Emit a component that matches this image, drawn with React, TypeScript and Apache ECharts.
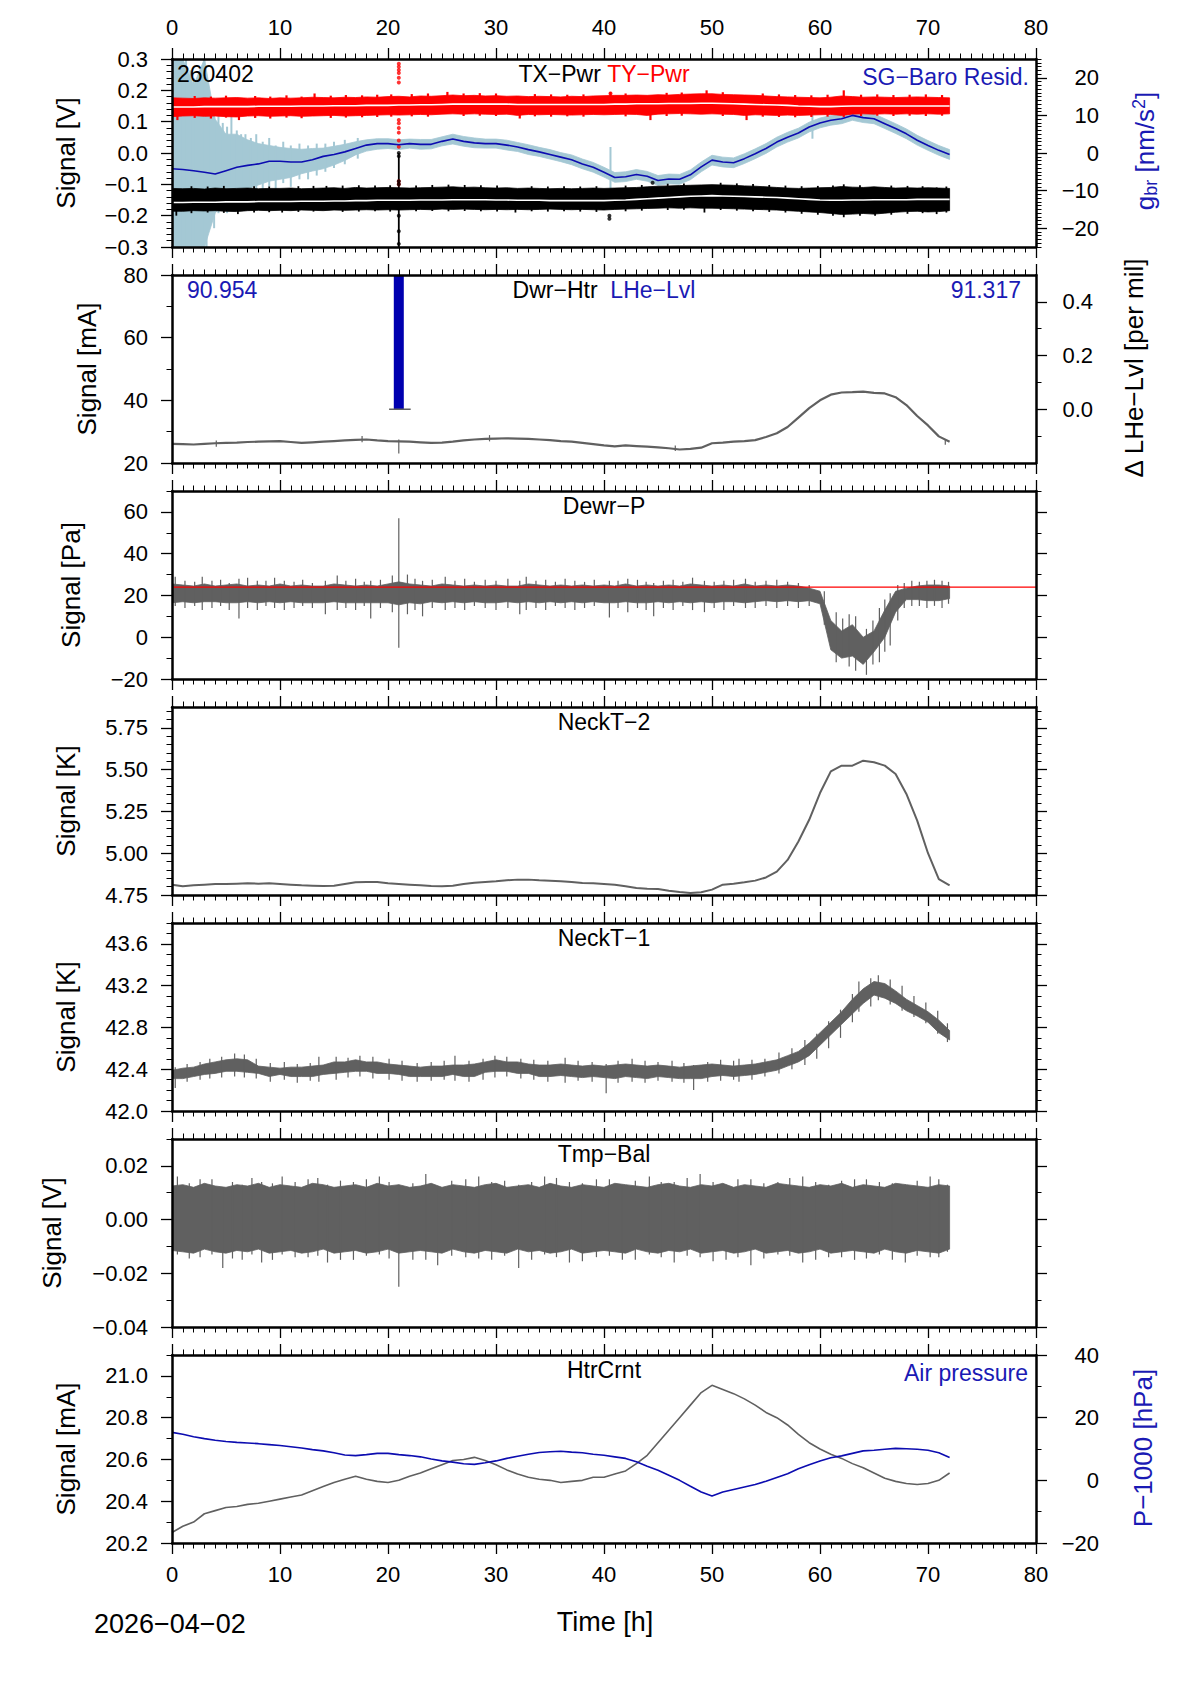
import React, { useEffect, useRef } from "react";
import * as echarts from "echarts";

const FONT = '"Liberation Sans", Arial, Helvetica, sans-serif';
const BLACK = "#000000";
const GRAY = "#606060";
const RED = "#ff0000";
const BLUE_LINE = "#0c0cb0";
const BLUE_TXT = "#1a1ab4";
const LIGHTBLUE = "#a4c8d4";

// ---------- time axis ----------
const X_MIN = 0;
const X_MAX = 80;
const HOURS = [0,1,2,3,4,5,6,7,8,9,10,11,12,13,14,15,16,17,18,19,20,21,22,23,24,25,26,27,28,29,30,31,32,33,34,35,36,37,38,39,40,41,42,43,44,45,46,47,48,49,50,51,52,53,54,55,56,57,58,59,60,61,62,63,64,65,66,67,68,69,70,71,72];

// ---------- panel 1 : TX-Pwr / TY-Pwr [V], SG-Baro residual [nm/s^2] ----------
const TY_HI = [0.176,0.175,0.174,0.176,0.175,0.176,0.177,0.175,0.176,0.174,
  0.176,0.175,0.176,0.178,0.177,0.176,0.178,0.177,0.179,0.178,
  0.180,0.181,0.179,0.182,0.181,0.183,0.185,0.183,0.184,0.182,
  0.183,0.181,0.182,0.180,0.181,0.180,0.179,0.181,0.180,0.182,
  0.183,0.184,0.184,0.185,0.184,0.186,0.185,0.187,0.188,0.189,
  0.189,0.187,0.186,0.185,0.184,0.182,0.180,0.179,0.178,0.177,
  0.176,0.178,0.182,0.180,0.178,0.179,0.178,0.177,0.178,0.179,
  0.178,0.177,0.176];
const TY_LO = [0.116,0.118,0.119,0.117,0.118,0.116,0.115,0.118,0.119,0.117,
  0.118,0.119,0.117,0.118,0.119,0.120,0.118,0.119,0.120,0.121,
  0.122,0.121,0.122,0.123,0.122,0.124,0.125,0.124,0.125,0.124,
  0.123,0.124,0.120,0.123,0.122,0.123,0.122,0.121,0.122,0.123,
  0.122,0.123,0.124,0.123,0.120,0.124,0.125,0.126,0.125,0.124,
  0.125,0.124,0.123,0.120,0.122,0.121,0.120,0.121,0.120,0.121,
  0.122,0.123,0.120,0.124,0.125,0.124,0.125,0.124,0.125,0.124,
  0.125,0.124,0.125];
const TY_MID = [0.147,0.147,0.147,0.148,0.148,0.148,0.148,0.148,0.149,0.149,
  0.149,0.149,0.150,0.150,0.150,0.151,0.151,0.151,0.152,0.152,
  0.152,0.153,0.153,0.154,0.154,0.155,0.156,0.156,0.156,0.156,
  0.156,0.156,0.155,0.155,0.155,0.155,0.155,0.155,0.155,0.155,
  0.155,0.156,0.156,0.157,0.157,0.157,0.158,0.158,0.158,0.159,
  0.159,0.158,0.157,0.156,0.155,0.154,0.153,0.152,0.150,0.149,
  0.148,0.148,0.149,0.150,0.150,0.150,0.150,0.150,0.150,0.150,
  0.150,0.150,0.150];
const TY_SPIKES = [[0.5,0.105,0.17],[2.1,0.112,0.182],[3.6,0.11,0.18],[5.0,0.113,0.183],[6.2,0.105,0.17],[7.7,0.112,0.182],
  [9.1,0.11,0.18],[10.6,0.113,0.184],[12.0,0.111,0.18],[13.2,0.12,0.19],[14.7,0.112,0.183],[16.1,0.113,0.185],
  [17.6,0.114,0.184],[19.0,0.115,0.186],[20.3,0.116,0.187],[22.2,0.117,0.188],[23.7,0.116,0.19],[25.5,0.13,0.195],
  [27.0,0.118,0.19],[28.5,0.119,0.191],[30.0,0.118,0.19],[32.2,0.11,0.17],[33.6,0.117,0.188],[35.1,0.116,0.187],
  [36.6,0.117,0.186],[38.1,0.116,0.187],[40.6,0.13,0.195],[42.0,0.117,0.19],[44.3,0.105,0.17],[45.8,0.118,0.192],
  [47.2,0.119,0.193],[49.5,0.13,0.2],[51.0,0.118,0.194],[53.2,0.105,0.17],[54.7,0.116,0.19],[56.2,0.115,0.187],
  [57.7,0.114,0.185],[59.2,0.115,0.184],[60.7,0.116,0.186],[62.2,0.115,0.2],[63.8,0.118,0.186],[65.3,0.119,0.187],
  [66.8,0.118,0.185],[68.3,0.119,0.186],[69.8,0.118,0.187],[71.3,0.119,0.185]];
const TY_DOTS = [[21,0.285],[21,0.275],[21,0.265],[21,0.255],[21,0.24],[21,0.225],[21,0.105],[21,0.095],
  [21,0.08],[21,0.065],[21,0.04],[21,0.02],[21,-0.09],[21,-0.1],[40.6,0.19]];

const TX_HI = [-0.113,-0.114,-0.113,-0.115,-0.112,-0.114,-0.113,-0.112,-0.114,-0.113,
  -0.113,-0.112,-0.114,-0.113,-0.112,-0.111,-0.113,-0.110,-0.112,-0.111,
  -0.110,-0.111,-0.112,-0.111,-0.110,-0.109,-0.108,-0.110,-0.109,-0.111,
  -0.112,-0.111,-0.113,-0.112,-0.113,-0.114,-0.113,-0.114,-0.113,-0.112,
  -0.113,-0.112,-0.111,-0.110,-0.108,-0.106,-0.105,-0.104,-0.103,-0.102,
  -0.101,-0.102,-0.103,-0.105,-0.106,-0.108,-0.110,-0.112,-0.113,-0.112,
  -0.111,-0.110,-0.107,-0.109,-0.110,-0.108,-0.110,-0.112,-0.111,-0.112,
  -0.111,-0.112,-0.113];
const TX_LO = [-0.186,-0.186,-0.184,-0.185,-0.184,-0.186,-0.187,-0.184,-0.183,-0.184,
  -0.183,-0.184,-0.182,-0.183,-0.184,-0.182,-0.183,-0.182,-0.181,-0.182,
  -0.181,-0.182,-0.181,-0.180,-0.181,-0.179,-0.180,-0.179,-0.180,-0.181,
  -0.180,-0.181,-0.180,-0.181,-0.180,-0.179,-0.180,-0.181,-0.180,-0.181,
  -0.182,-0.180,-0.179,-0.178,-0.177,-0.176,-0.175,-0.176,-0.175,-0.176,
  -0.176,-0.177,-0.178,-0.179,-0.180,-0.181,-0.182,-0.184,-0.186,-0.188,
  -0.190,-0.193,-0.196,-0.195,-0.193,-0.195,-0.192,-0.189,-0.187,-0.186,
  -0.188,-0.187,-0.184];
const TX_MID = [-0.158,-0.158,-0.157,-0.157,-0.157,-0.156,-0.156,-0.156,-0.155,-0.155,
  -0.155,-0.155,-0.154,-0.154,-0.154,-0.153,-0.153,-0.152,-0.152,-0.151,
  -0.151,-0.151,-0.151,-0.150,-0.150,-0.150,-0.149,-0.149,-0.149,-0.149,
  -0.150,-0.150,-0.151,-0.151,-0.151,-0.152,-0.152,-0.152,-0.152,-0.152,
  -0.152,-0.151,-0.150,-0.148,-0.146,-0.144,-0.142,-0.140,-0.138,-0.137,
  -0.136,-0.137,-0.138,-0.139,-0.140,-0.141,-0.142,-0.144,-0.146,-0.148,
  -0.150,-0.151,-0.151,-0.150,-0.150,-0.149,-0.149,-0.149,-0.149,-0.148,
  -0.148,-0.148,-0.148];
const TX_SPIKES = [[0.4,-0.2,-0.12],[1.8,-0.192,-0.106],[3.3,-0.19,-0.107],[4.8,-0.191,-0.105],[6.1,-0.195,-0.12],
  [7.6,-0.19,-0.106],[9.0,-0.189,-0.107],[10.2,-0.19,-0.115],[11.7,-0.188,-0.106],[13.1,-0.187,-0.105],
  [14.3,-0.18,-0.105],[15.8,-0.188,-0.104],[17.3,-0.187,-0.103],[18.8,-0.186,-0.104],[20.2,-0.187,-0.103],
  [22.6,-0.186,-0.104],[24.1,-0.185,-0.102],[25.6,-0.186,-0.101],[27.1,-0.185,-0.102],[28.6,-0.186,-0.103],
  [30.1,-0.187,-0.104],[31.8,-0.19,-0.115],[33.3,-0.186,-0.106],[34.8,-0.187,-0.107],[36.3,-0.186,-0.106],
  [37.8,-0.187,-0.107],[39.3,-0.188,-0.106],[42.0,-0.186,-0.104],[43.5,-0.184,-0.102],[45.9,-0.182,-0.098],
  [47.4,-0.181,-0.097],[49.3,-0.19,-0.12],[50.8,-0.182,-0.095],[52.3,-0.184,-0.097],[53.8,-0.186,-0.099],
  [55.3,-0.188,-0.102],[56.8,-0.19,-0.104],[58.3,-0.194,-0.106],[59.8,-0.197,-0.105],[61.2,-0.2,-0.104],
  [62.2,-0.205,-0.1],[63.7,-0.2,-0.103],[65.1,-0.2,-0.11],[66.6,-0.197,-0.104],[68.1,-0.194,-0.105],
  [69.5,-0.192,-0.106],[70.8,-0.195,-0.11],[71.7,-0.19,-0.107],[21,-0.3,0.0]];
const TX_DOTS = [[21,0.0],[21,-0.01],[21,-0.09],[21,-0.1],[21,-0.2],[21,-0.25],[21,-0.29],[40.5,-0.2],[40.5,-0.21],[44.5,-0.095]];

const SG_SMOOTH = [-4.2,-4.4,-4.7,-5.1,-5.6,-4.7,-3.8,-3.3,-2.9,-2.2,
  -2.2,-2.4,-2.4,-1.8,-0.9,-0.4,0.3,1.2,2.1,2.5,
  2.5,2.2,2.5,2.3,2.3,3.1,3.7,3.1,2.7,2.5,
  2.5,2.1,1.6,0.9,0.3,-0.4,-1.1,-1.8,-2.9,-3.8,
  -5.1,-6.5,-6.3,-5.7,-6.2,-7.3,-6.9,-7.0,-5.8,-3.7,
  -1.9,-2.4,-2.6,-1.5,-0.2,1.2,2.9,4.2,5.3,6.9,
  8.0,8.7,9.1,10.0,9.4,9.1,7.8,6.5,5.1,3.4,
  2.0,0.7,-0.4];
const SG_RAW_HI = [25,25,18,25,9,5,5,3.5,2.5,2,
  1.5,1.2,1,1.2,1.3,1.8,2.3,3,3.5,3.8,
  3.8,3.5,3.7,3.6,3.6,4.3,5.0,4.4,4.0,3.7,
  3.7,3.4,2.8,2.2,1.5,0.9,0.1,-0.5,-1.6,-2.5,
  -3.8,-5.2,-5.0,-4.4,-4.9,-6.0,-5.6,-5.7,-4.5,-2.4,
  -0.6,-1.1,-1.3,-0.2,1.1,2.5,4.2,5.5,6.6,8.2,
  9.3,10.0,10.4,11.3,10.7,10.4,9.1,7.8,6.4,4.7,
  3.3,2.0,0.9];
const SG_RAW_LO = [-25,-25,-25,-25,-16,-12,-12,-9.5,-8.5,-7.5,
  -7,-6.5,-5.5,-4.8,-4.2,-3.2,-2,-0.5,0.5,1,
  1.2,0.9,1.3,1.0,1.1,1.9,2.4,1.8,1.4,1.3,
  1.3,0.8,0.4,-0.4,-0.9,-1.6,-2.3,-3.1,-4.2,-5.1,
  -6.4,-7.8,-7.6,-7.0,-7.5,-8.6,-8.2,-8.3,-7.1,-5.0,
  -3.2,-3.7,-3.9,-2.8,-1.5,-0.1,1.6,2.9,4.0,5.6,
  6.7,7.4,7.8,8.7,8.1,7.8,6.5,5.2,3.8,2.1,
  0.7,-0.6,-1.7];
const SG_RAW_SPIKES = [[0.1,-25,25],[0.3,-25,25],[0.7,-25,25],[1.0,-25,25],[1.3,-25,25],[1.7,-25,22],[2.0,-25,20],
  [2.2,-25,12],[2.6,-22,14],[3.0,-25,25],[3.2,-25,20],[3.6,-12,8],[3.9,-20,12],[4.3,-16,12],[4.7,-14,8],
  [5.1,-16,7],[5.5,-10,10],[6.0,-13,6],[6.4,-14,5],[6.8,-9,5],[7.3,-12,4],[7.8,-10,5],[8.4,-11,3],[9.0,-9,4],
  [9.6,-10,2],[10.3,-8,3],[11.0,-9,2],[11.8,-7,2.5],[12.6,-7,2],[13.4,-6,2.5],[14.2,-5,2.5],[15.0,-4,3],
  [16.0,-3,3.5],[17.2,-1.5,4],[40.6,-9.6,1.6],[59.3,3.8,10.2]];

// ---------- panel 2 : Dwr-Htr [mA], LHe-Lvl [per mil] ----------
const DWR_HTR = [26.1,26.0,25.9,26.1,26.3,26.4,26.5,26.7,26.8,26.9,
  27.0,26.7,26.4,26.6,26.8,27.0,27.2,27.4,27.5,27.2,
  27.0,26.9,26.8,26.6,26.4,26.5,26.8,27.2,27.5,27.7,
  27.8,27.9,27.8,27.7,27.5,27.3,27.0,26.8,26.4,26.0,
  25.6,25.3,25.6,25.4,25.2,25.0,24.7,24.3,24.5,24.9,
  26.3,26.5,26.8,27.0,27.3,28.3,29.5,31.5,34.5,37.5,
  40.0,41.8,42.5,42.6,42.8,42.4,42.2,41.0,38.5,35.0,
  32.0,28.5,26.8];
const DWR_SPIKES = [[21,23,27.5],[4.1,25.2,27.2],[17.6,26.6,28.6],[29.4,26.9,28.9],[46.6,23.8,25.6],[71.6,25.8,27.4]];
const LHE_BAR = [[21, 0.6]];
const LHE_CAP = [[20.1, 0], [22.1, 0]];

// ---------- panel 3 : Dewr-P [Pa] ----------
const DP_HI = [25.5,25,24.5,25.5,24.5,25,25.5,24.5,25,24.5,
  25.5,24.5,25,24.5,24.5,25.5,25,24.5,25,24.5,
  25.5,26.5,25.5,25,24.5,25.5,25,24.5,25,24.5,
  25,24.5,24.5,25.5,25,24.5,25,24.5,25,24.5,
  25,24.5,25.5,24.5,25,24.5,25,24.5,25.5,25,
  24.5,25,24.5,25.5,24.5,25,24.5,25,24.5,23.5,
  22,8,3,6,0,3,13,22,23.5,24.5,
  25,25,24.5];
const DP_LO = [16.5,17,16.5,17,17,16.5,16.5,17,16.5,17,
  16.5,17,16.5,16.5,16.5,17,16.5,16.5,16.5,16.5,
  16.5,15.5,16.5,16,17,16.5,17,16.5,17,16.5,
  16.5,17,16.5,17,16.5,17,16.5,17,16.5,17,
  16.5,16.5,17,16.5,16.5,17,16.5,17,16.5,17,
  16.5,17,17,16.5,17,17.5,17,17.5,17,17.5,
  16,-6,-10,-9,-13,-7,0,12,18,18,
  17.5,17.5,18.5];
const DP_SPIKES = [[0.3,15,29],[1.2,14,27],[2.1,15,26.5],[2.8,13,29],[3.7,14,27],[4.5,15,27.5],[5.3,13,26],
  [6.2,9,28],[7.0,14,28.5],[7.9,13,27],[8.7,15,27],[9.5,14,28.5],[10.4,13,27],[11.3,14,26.5],[12.1,15,27.5],
  [13.0,14,26],[14.2,11,27],[15.3,13,29.5],[16.1,14,27],[17.0,13,28],[17.8,15,26.5],[18.4,9,27],[19.3,14,27.5],
  [20.4,12,29.5],[21,-5,57],[21.8,11,30],[22.5,13,28],[23.2,10,27],[24.1,14,27.5],[25.3,13,29],[26.2,14,27],
  [27.1,13,28],[28.0,15,26.5],[29.0,14,27.5],[30.0,13,27],[31.1,14,28],[32.2,11,27],[32.8,13,29],[33.7,14,27],
  [34.6,13,27.5],[35.5,15,26.5],[36.4,14,28],[37.3,13,27],[38.2,14,26.5],[39.1,15,27.5],[40.5,9.5,27],
  [41.3,14,27],[42.2,12,28],[43.1,14,27.5],[43.9,13,26.5],[44.6,10,26],[45.5,14,27],[46.4,13,27.5],
  [47.3,15,26.5],[48.2,13,28.5],[49.3,12,27],[50.2,14,26.5],[51.1,13,27],[52.0,15,27.5],[53.1,14,28],
  [54.0,14,26.5],[55.0,15,27],[56.0,14,27.5],[57.0,15,26.5],[58.0,14,26],[59.0,15,25],[60.4,6,22],
  [61.5,-12,12],[62.1,-10,9],[62.7,-14,11],[63.3,-16,10],[64.3,-18,4],[64.9,-13,8],[65.5,-12,14],[66.0,-7,18],
  [66.5,-4,21],[67.2,8,25],[67.8,14,26],[68.5,15,27],[69.2,15,26.5],[69.9,14,27],[70.6,15,27.5],[71.3,14,27],
  [71.9,16,26.5]];
const DP_REF = [[0, 24], [80, 24]];

// ---------- panel 4 : NeckT-2 [K] ----------
const NECK_T2 = [4.812,4.802,4.808,4.812,4.816,4.816,4.818,4.820,4.818,4.820,
  4.816,4.812,4.808,4.806,4.804,4.806,4.816,4.826,4.828,4.828,
  4.820,4.816,4.812,4.808,4.804,4.802,4.806,4.816,4.824,4.828,
  4.832,4.838,4.842,4.842,4.838,4.836,4.832,4.828,4.822,4.820,
  4.816,4.812,4.802,4.792,4.788,4.786,4.776,4.768,4.762,4.766,
  4.782,4.812,4.818,4.826,4.836,4.855,4.890,4.960,5.070,5.200,
  5.360,5.490,5.524,5.524,5.554,5.544,5.524,5.474,5.355,5.195,
  5.000,4.845,4.808];

// ---------- panel 5 : NeckT-1 [K] ----------
const N1_HI = [42.39,42.41,42.42,42.45,42.47,42.49,42.50,42.49,42.43,42.42,
  42.41,42.42,42.42,42.43,42.44,42.47,42.47,42.49,42.47,42.47,
  42.45,42.44,42.43,42.42,42.43,42.43,42.44,42.44,42.45,42.47,
  42.49,42.47,42.47,42.45,42.44,42.44,42.45,42.44,42.43,42.44,
  42.43,42.44,42.45,42.44,42.43,42.44,42.43,42.42,42.43,42.44,
  42.45,42.44,42.43,42.44,42.45,42.47,42.49,42.53,42.57,42.65,
  42.75,42.85,42.95,43.07,43.17,43.24,43.22,43.15,43.07,43.01,
  42.95,42.87,42.77];
const N1_LO = [42.31,42.31,42.33,42.35,42.36,42.38,42.38,42.37,42.36,42.33,
  42.35,42.33,42.33,42.33,42.35,42.36,42.37,42.38,42.38,42.36,
  42.36,42.35,42.33,42.33,42.33,42.33,42.35,42.33,42.33,42.37,
  42.38,42.38,42.36,42.36,42.33,42.33,42.34,42.33,42.32,42.33,
  42.32,42.31,42.33,42.32,42.31,42.33,42.32,42.31,42.31,42.31,
  42.33,42.34,42.33,42.34,42.35,42.37,42.39,42.43,42.47,42.53,
  42.63,42.73,42.83,42.93,43.03,43.11,43.08,43.03,42.96,42.91,
  42.85,42.75,42.68];
const N1_SPIKES = [[0.3,42.22,42.42],[1.4,42.28,42.45],[2.6,42.3,42.47],[3.5,42.31,42.5],[4.6,42.32,42.52],
  [5.8,42.33,42.55],[6.7,42.32,42.54],[7.8,42.31,42.5],[9.1,42.28,42.46],[10.4,42.3,42.47],[11.6,42.27,42.45],
  [12.8,42.29,42.46],[13.6,42.28,42.52],[15.2,42.3,42.52],[16.3,42.32,42.51],[17.4,42.33,42.53],[18.6,42.31,42.52],
  [20.1,42.3,42.5],[21.3,42.29,42.48],[22.7,42.28,42.46],[24.0,42.29,42.47],[25.2,42.3,42.48],[26.2,42.29,42.53],
  [27.5,42.28,42.48],[28.8,42.3,42.5],[29.9,42.32,42.53],[31.0,42.33,42.52],[32.3,42.31,42.5],[33.5,42.3,42.49],
  [34.8,42.28,42.48],[36.4,42.27,42.51],[37.6,42.29,42.48],[38.9,42.28,42.47],[40.2,42.17,42.45],[41.3,42.27,42.48],
  [42.6,42.28,42.5],[43.8,42.27,42.48],[45.0,42.29,42.47],[46.3,42.28,42.48],[47.4,42.27,42.46],[48.3,42.2,42.44],
  [49.6,42.28,42.47],[50.8,42.29,42.49],[52.0,42.3,42.48],[52.5,42.28,42.5],[53.7,42.3,42.49],[54.9,42.33,42.5],
  [56.2,42.36,42.56],[57.4,42.4,42.6],[58.6,42.44,42.68],[59.7,42.5,42.74],[60.8,42.6,42.86],[61.9,42.7,42.97],
  [63.0,42.85,43.12],[63.6,42.95,43.24],[64.7,43.0,43.27],[65.4,43.06,43.3],[66.5,43.02,43.26],[67.6,42.96,43.2],
  [68.7,42.9,43.1],[69.8,42.84,43.04],[70.9,42.74,42.96],[71.8,42.66,42.84]];

// ---------- panel 6 : Tmp-Bal [V] ----------
const TB_HI = [0.0125,0.013,0.012,0.0135,0.0125,0.012,0.013,0.0125,0.0135,0.012,
  0.013,0.0125,0.012,0.0135,0.013,0.012,0.0125,0.013,0.012,0.0135,
  0.0125,0.013,0.012,0.0125,0.0135,0.012,0.013,0.0125,0.012,0.013,
  0.0135,0.012,0.0125,0.013,0.012,0.0135,0.0125,0.012,0.013,0.0125,
  0.012,0.0135,0.013,0.0125,0.012,0.013,0.0135,0.0125,0.012,0.013,
  0.0125,0.0135,0.012,0.013,0.0125,0.012,0.0135,0.013,0.0125,0.012,
  0.013,0.0125,0.0135,0.012,0.013,0.0125,0.012,0.0135,0.013,0.0125,
  0.012,0.013,0.0125];
const TB_LO = [-0.0115,-0.012,-0.0125,-0.011,-0.012,-0.0125,-0.0115,-0.012,-0.011,-0.0125,
  -0.012,-0.0115,-0.0125,-0.012,-0.011,-0.0125,-0.012,-0.0115,-0.0125,-0.012,
  -0.011,-0.0125,-0.012,-0.0115,-0.012,-0.0125,-0.011,-0.012,-0.0125,-0.0115,
  -0.012,-0.0125,-0.011,-0.012,-0.0115,-0.0125,-0.012,-0.011,-0.0125,-0.012,
  -0.0115,-0.012,-0.0125,-0.011,-0.012,-0.0125,-0.0115,-0.012,-0.011,-0.0125,
  -0.012,-0.0115,-0.0125,-0.012,-0.011,-0.0125,-0.012,-0.0115,-0.0125,-0.012,
  -0.011,-0.0125,-0.012,-0.0115,-0.012,-0.0125,-0.011,-0.012,-0.0125,-0.0115,
  -0.012,-0.0125,-0.011];
const TB_SPIKES = [[0.5,-0.013,0.016],[1.6,-0.0145,0.0135],[2.6,-0.014,0.015],[3.7,-0.013,0.015],[4.7,-0.018,0.012],
  [5.6,-0.0145,0.014],[6.5,-0.015,0.013],[7.4,-0.013,0.0155],[8.3,-0.016,0.014],[9.3,-0.015,0.0135],
  [10.2,-0.013,0.016],[11.4,-0.014,0.014],[12.6,-0.014,0.015],[13.5,-0.0135,0.0155],[14.4,-0.016,0.013],
  [15.6,-0.015,0.0145],[16.8,-0.015,0.014],[18.0,-0.0135,0.015],[19.2,-0.013,0.016],[20.1,-0.0145,0.014],
  [21,-0.025,0.013],[22.3,-0.015,0.0135],[23.5,-0.015,0.017],[24.6,-0.017,0.012],[25.9,-0.0135,0.0145],
  [27.2,-0.014,0.015],[28.4,-0.0145,0.016],[29.6,-0.015,0.014],[30.8,-0.0135,0.0145],[32.1,-0.018,0.013],
  [33.3,-0.015,0.014],[34.5,-0.013,0.016],[35.6,-0.014,0.0155],[36.8,-0.016,0.014],[38.0,-0.0155,0.0135],
  [39.3,-0.014,0.015],[40.5,-0.0135,0.015],[41.7,-0.015,0.013],[42.9,-0.015,0.0145],[44.2,-0.013,0.016],
  [45.3,-0.014,0.014],[46.5,-0.016,0.014],[47.7,-0.0135,0.0155],[48.9,-0.014,0.017],[50.1,-0.0155,0.014],
  [51.3,-0.015,0.013],[52.4,-0.014,0.015],[53.6,-0.017,0.015],[54.8,-0.0145,0.0135],[56.1,-0.013,0.014],
  [57.2,-0.0135,0.0155],[58.4,-0.016,0.016],[59.6,-0.015,0.014],[60.8,-0.014,0.013],[62.0,-0.014,0.0145],
  [63.2,-0.015,0.015],[64.3,-0.0145,0.015],[65.5,-0.013,0.014],[66.7,-0.015,0.0135],[67.9,-0.016,0.013],
  [69.0,-0.0135,0.0145],[70.2,-0.014,0.016],[71.0,-0.014,0.015],[71.8,-0.012,0.013]];

// ---------- panel 7 : HtrCrnt [mA], Air pressure [hPa] ----------
const HTR_CRNT = [20.25,20.28,20.30,20.34,20.355,20.37,20.375,20.385,20.39,20.40,
  20.41,20.42,20.43,20.45,20.47,20.49,20.505,20.52,20.505,20.495,
  20.49,20.50,20.52,20.535,20.555,20.575,20.595,20.60,20.61,20.595,
  20.575,20.55,20.53,20.515,20.505,20.50,20.49,20.495,20.50,20.515,
  20.515,20.53,20.545,20.58,20.62,20.68,20.74,20.80,20.86,20.92,
  20.955,20.935,20.915,20.89,20.86,20.825,20.80,20.765,20.72,20.68,
  20.65,20.625,20.605,20.58,20.56,20.535,20.51,20.495,20.485,20.48,
  20.485,20.50,20.535];
const AIR_P = [15.3,14.7,13.9,13.3,12.8,12.4,12.1,11.9,11.7,11.4,
  11.1,10.7,10.3,9.8,9.4,8.8,8.1,7.9,8.2,8.6,
  8.6,8.2,7.9,7.5,6.8,6.2,5.8,5.3,5.1,5.6,
  6.2,7.0,7.7,8.3,8.9,9.1,9.3,9.0,8.8,8.3,
  8.0,7.5,7.0,5.9,4.5,3.2,1.6,0.0,-1.9,-3.7,
  -5.0,-3.7,-2.9,-2.1,-1.3,-0.3,0.9,2.1,3.7,5.0,
  6.2,7.2,7.8,8.6,9.4,9.6,9.9,10.2,10.1,9.9,
  9.6,8.8,7.3];

// ---------- axis ticks ----------
const P1_L_MAJ = [-0.3,-0.2,-0.1,0,0.1,0.2,0.3];
const P1_L_MIN = [-0.28,-0.26,-0.24,-0.22,-0.18,-0.16,-0.14,-0.12,-0.08,-0.06,-0.04,-0.02,0.02,0.04,0.06,0.08,0.12,0.14,0.16,0.18,0.22,0.24,0.26,0.28];
const P1_R_MAJ = [-20,-10,0,10,20];
const P1_R_MIN = [-25,-24,-23,-22,-21,-19,-18,-17,-16,-15,-14,-13,-12,-11,-9,-8,-7,-6,-5,-4,-3,-2,-1,1,2,3,4,5,6,7,8,9,11,12,13,14,15,16,17,18,19,21,22,23,24,25];
const P2_L_MAJ = [20,40,60,80];
const P2_L_MIN = [30,50,70];
const P2_R_MAJ = [0,0.2,0.4];
const P2_R_MIN = [-0.1,0.1,0.3];
const P3_MAJ = [-20,0,20,40,60];
const P3_MIN = [-10,10,30,50,70];
const P4_MAJ = [4.75,5.0,5.25,5.5,5.75];
const P4_MIN = [4.8,4.85,4.9,4.95,5.05,5.1,5.15,5.2,5.3,5.35,5.4,5.45,5.55,5.6,5.65,5.7,5.8,5.85];
const P5_MAJ = [42.0,42.4,42.8,43.2,43.6];
const P5_MIN = [42.1,42.2,42.3,42.5,42.6,42.7,42.9,43.0,43.1,43.3,43.4,43.5,43.7,43.8];
const P6_MAJ = [-0.04,-0.02,0,0.02];
const P6_MIN = [-0.03,-0.01,0.01,0.03];
const P7_L_MAJ = [20.2,20.4,20.6,20.8,21.0];
const P7_L_MIN = [20.3,20.5,20.7,20.9,21.1];
const P7_R_MAJ = [-20,0,20,40];
const P7_R_MIN = [-10,10,30];

const PANELS = [
  { lmin: -0.3, lmax: 0.3, lmaj: P1_L_MAJ, lmi: P1_L_MIN, ldec: 1, rmin: -25, rmax: 25, rmaj: P1_R_MAJ, rmi: P1_R_MIN, rdec: 0, rlab: true, rmargin: 63 },
  { lmin: 20, lmax: 80, lmaj: P2_L_MAJ, lmi: P2_L_MIN, ldec: 0, rmin: -0.2, rmax: 0.5, rmaj: P2_R_MAJ, rmi: P2_R_MIN, rdec: 1, rlab: true, rmargin: 57 },
  { lmin: -20, lmax: 70, lmaj: P3_MAJ, lmi: P3_MIN, ldec: 0, rmin: -20, rmax: 70, rmaj: P3_MAJ, rmi: P3_MIN, rdec: 0, rlab: false, rmargin: 20 },
  { lmin: 4.75, lmax: 5.875, lmaj: P4_MAJ, lmi: P4_MIN, ldec: 2, rmin: 4.75, rmax: 5.875, rmaj: P4_MAJ, rmi: P4_MIN, rdec: 2, rlab: false, rmargin: 20 },
  { lmin: 42.0, lmax: 43.8, lmaj: P5_MAJ, lmi: P5_MIN, ldec: 1, rmin: 42.0, rmax: 43.8, rmaj: P5_MAJ, rmi: P5_MIN, rdec: 1, rlab: false, rmargin: 20 },
  { lmin: -0.04, lmax: 0.03, lmaj: P6_MAJ, lmi: P6_MIN, ldec: 2, rmin: -0.04, rmax: 0.03, rmaj: P6_MAJ, rmi: P6_MIN, rdec: 2, rlab: false, rmargin: 20 },
  { lmin: 20.2, lmax: 21.1, lmaj: P7_L_MAJ, lmi: P7_L_MIN, ldec: 1, rmin: -20, rmax: 40, rmaj: P7_R_MAJ, rmi: P7_R_MIN, rdec: 0, rlab: true, rmargin: 63 },
];

// ---------- layout ----------
const TOPS = [59, 275, 491, 707, 923, 1139, 1355];
const GRID_LEFT = 172;
const GRID_W = 864;
const GRID_H = 188;

function fmt(v: number, d: number) {
  return Number(v).toFixed(d).replace("-", "\u2212");
}

function yMajor(g: number, pos: string, min: number, max: number, vals: number[], dec: number, showLabel: boolean, margin: number) {
  return {
    type: "value", gridIndex: g, position: pos, min, max, z: 10,
    axisLine: { show: true, onZero: false, lineStyle: { color: BLACK, width: 2.5 } },
    axisTick: { show: true, inside: false, length: 11, customValues: vals, lineStyle: { color: BLACK, width: 1.3 } },
    axisLabel: {
      show: showLabel, customValues: vals, margin, fontSize: 22, color: BLACK, fontFamily: FONT,
      align: "right",
      formatter: (v: number) => fmt(v, dec),
    },
    splitLine: { show: false },
  };
}
function yMinor(g: number, pos: string, min: number, max: number, vals: number[]) {
  return {
    type: "value", gridIndex: g, position: pos, min, max, z: 10,
    axisLine: { show: false, onZero: false },
    axisTick: { show: true, inside: false, length: 5.5, customValues: vals, lineStyle: { color: BLACK, width: 1 } },
    axisLabel: { show: false },
    splitLine: { show: false },
  };
}

function band(xi: number, yi: number, lo: number[], hi: number[], color: string) {
  return {
    type: "custom", xAxisIndex: xi, yAxisIndex: yi, clip: true, silent: true,
    data: HOURS.map((t, i) => [t, lo[i], hi[i]]),
    encode: { x: 0, y: [1, 2] },
    renderItem: (params: any, api: any) => {
      if (params.dataIndex !== 0) return null;
      const top = HOURS.map((t, i) => api.coord([t, hi[i]]));
      const bot = HOURS.map((t, i) => api.coord([t, lo[i]])).reverse();
      return { type: "polygon", shape: { points: top.concat(bot) }, style: { fill: color, stroke: color, lineWidth: 0.8 } };
    },
  };
}
function spikes(xi: number, yi: number, items: number[][], color: string, width: number) {
  return {
    type: "custom", xAxisIndex: xi, yAxisIndex: yi, clip: true, silent: true,
    data: items, encode: { x: 0, y: [1, 2] },
    renderItem: (params: any, api: any) => {
      const p1 = api.coord([api.value(0), api.value(1)]);
      const p2 = api.coord([api.value(0), api.value(2)]);
      return { type: "line", shape: { x1: p1[0], y1: p1[1], x2: p2[0], y2: p2[1] }, style: { stroke: color, lineWidth: width } };
    },
  };
}
function line(xi: number, yi: number, vals: number[], color: string, width: number) {
  return {
    type: "line", xAxisIndex: xi, yAxisIndex: yi, silent: true, showSymbol: false, symbol: "none",
    data: HOURS.map((t, i) => [t, vals[i]]), lineStyle: { color, width }, clip: true,
  };
}
function dots(xi: number, yi: number, items: number[][], color: string) {
  return { type: "scatter", xAxisIndex: xi, yAxisIndex: yi, silent: true, data: items, symbolSize: 4, itemStyle: { color } };
}

function vText(text: string, x: number, y: number, color: string) {
  return {
    type: "text", x, y, rotation: Math.PI / 2, z: 20,
    style: { text, fontSize: 26, fontFamily: FONT, fill: color, align: "center", verticalAlign: "middle", textAlign: "center", textVerticalAlign: "middle" },
  };
}
function hText(text: string, x: number, y: number, color: string, size: number, align: string) {
  return {
    type: "text", x, y, z: 20,
    style: { text, fontSize: size, fontFamily: FONT, fill: color, align, verticalAlign: "middle", textAlign: align, textVerticalAlign: "middle" },
  };
}
function richTitle(text: string, x: number, y: number, rich: any) {
  return {
    type: "text", x, y, z: 20,
    style: { text, rich, fontSize: 23, fontFamily: FONT, fill: BLACK, align: "center", verticalAlign: "middle", textAlign: "center", textVerticalAlign: "middle" },
  };
}

function buildOption() {
  const grid: any[] = [];
  const xAxis: any[] = [];
  const yAxis: any[] = [];
  PANELS.forEach((p, g) => {
    grid.push({ left: GRID_LEFT, top: TOPS[g], width: GRID_W, height: GRID_H, show: false });
    ["bottom", "top"].forEach((pos) => {
      xAxis.push({
        type: "value", gridIndex: g, position: pos, min: X_MIN, max: X_MAX, interval: 10, z: 10,
        axisLine: { show: true, onZero: false, lineStyle: { color: BLACK, width: 2.5 } },
        axisTick: { show: true, inside: false, length: 11, lineStyle: { color: BLACK, width: 1.3 } },
        minorTick: { show: true, splitNumber: 10, length: 5.5, lineStyle: { color: BLACK, width: 1 } },
        axisLabel: {
          show: (pos === "top" && g === 0) || (pos === "bottom" && g === 6),
          margin: pos === "top" ? 21 : 20, fontSize: 22, color: BLACK, fontFamily: FONT,
          formatter: (v: number) => fmt(v, 0),
        },
        splitLine: { show: false },
        minorSplitLine: { show: false },
      });
    });
    yAxis.push(yMajor(g, "left", p.lmin, p.lmax, p.lmaj, p.ldec, true, 24));
    yAxis.push(yMinor(g, "left", p.lmin, p.lmax, p.lmi));
    yAxis.push(yMajor(g, "right", p.rmin, p.rmax, p.rmaj, p.rdec, p.rlab, p.rmargin));
    yAxis.push(yMinor(g, "right", p.rmin, p.rmax, p.rmi));
  });

  const X = (g: number) => 2 * g;
  const YL = (g: number) => 4 * g;
  const YR = (g: number) => 4 * g + 2;

  const series: any[] = [
    // panel 1
    band(X(0), YR(0), SG_RAW_LO, SG_RAW_HI, LIGHTBLUE),
    spikes(X(0), YR(0), SG_RAW_SPIKES, LIGHTBLUE, 2),
    line(X(0), YR(0), SG_SMOOTH, BLUE_LINE, 1.6),
    band(X(0), YL(0), TY_LO, TY_HI, RED),
    spikes(X(0), YL(0), TY_SPIKES, RED, 2.2),
    line(X(0), YL(0), TY_MID, "#ffffff", 1.6),
    dots(X(0), YL(0), TY_DOTS, RED),
    band(X(0), YL(0), TX_LO, TX_HI, BLACK),
    spikes(X(0), YL(0), TX_SPIKES, BLACK, 1.8),
    line(X(0), YL(0), TX_MID, "#ffffff", 1.6),
    dots(X(0), YL(0), TX_DOTS, BLACK),
    // panel 2
    line(X(1), YL(1), DWR_HTR, GRAY, 2.2),
    spikes(X(1), YL(1), DWR_SPIKES, GRAY, 1.2),
    { type: "bar", xAxisIndex: X(1), yAxisIndex: YR(1), silent: true, data: LHE_BAR, barWidth: 10, clip: true, itemStyle: { color: "#0000b0" } },
    { type: "line", xAxisIndex: X(1), yAxisIndex: YR(1), silent: true, showSymbol: false, symbol: "none", data: LHE_CAP, lineStyle: { color: GRAY, width: 1.5 } },
    // panel 3
    band(X(2), YL(2), DP_LO, DP_HI, GRAY),
    spikes(X(2), YL(2), DP_SPIKES, GRAY, 1.2),
    { type: "line", xAxisIndex: X(2), yAxisIndex: YL(2), silent: true, showSymbol: false, symbol: "none", data: DP_REF, lineStyle: { color: RED, width: 1.1 } },
    // panel 4
    line(X(3), YL(3), NECK_T2, GRAY, 2),
    // panel 5
    band(X(4), YL(4), N1_LO, N1_HI, GRAY),
    spikes(X(4), YL(4), N1_SPIKES, GRAY, 1.2),
    // panel 6
    band(X(5), YL(5), TB_LO, TB_HI, GRAY),
    spikes(X(5), YL(5), TB_SPIKES, GRAY, 1.2),
    // panel 7
    line(X(6), YL(6), HTR_CRNT, GRAY, 1.6),
    line(X(6), YR(6), AIR_P, BLUE_LINE, 1.6),
  ];

  const rt = (c: string) => ({ fill: c, fontSize: 23, fontFamily: FONT });
  const graphic: any[] = [
    vText("Signal [V]", 66, 153, BLACK),
    vText("Signal [mA]", 87, 369, BLACK),
    vText("Signal [Pa]", 71, 585, BLACK),
    vText("Signal [K]", 66, 801, BLACK),
    vText("Signal [K]", 66, 1017, BLACK),
    vText("Signal [V]", 52, 1233, BLACK),
    vText("Signal [mA]", 66, 1449, BLACK),
    {
      type: "text", x: 1145, y: 151, rotation: Math.PI / 2, z: 20,
      style: {
        text: "{n|g}{s|br}{n| [nm/s}{p|2}{n|]}",
        rich: {
          n: { fill: BLUE_TXT, fontSize: 26, fontFamily: FONT, lineHeight: 30 },
          s: { fill: BLUE_TXT, fontSize: 18, fontFamily: FONT, lineHeight: 18, verticalAlign: "bottom" },
          p: { fill: BLUE_TXT, fontSize: 18, fontFamily: FONT, lineHeight: 18, verticalAlign: "top" },
        },
        align: "center", verticalAlign: "middle", textAlign: "center", textVerticalAlign: "middle",
      },
    },
    vText("\u0394 LHe\u2212Lvl [per mil]", 1134, 368, BLACK),
    vText("P\u22121000 [hPa]", 1143, 1448, BLUE_TXT),
    richTitle("{k|TX\u2212Pwr} {r|TY\u2212Pwr}", 604, 74, { k: rt(BLACK), r: rt(RED) }),
    richTitle("{k|Dwr\u2212Htr}  {b|LHe\u2212Lvl}", 604, 290, { k: rt(BLACK), b: rt(BLUE_TXT) }),
    hText("Dewr\u2212P", 604, 506, BLACK, 23, "center"),
    hText("NeckT\u22122", 604, 722, BLACK, 23, "center"),
    hText("NeckT\u22121", 604, 938, BLACK, 23, "center"),
    hText("Tmp\u2212Bal", 604, 1154, BLACK, 23, "center"),
    hText("HtrCrnt", 604, 1370, BLACK, 23, "center"),
    hText("260402", 177, 74, BLACK, 23, "left"),
    hText("SG\u2212Baro Resid.", 1029, 77, BLUE_TXT, 23, "right"),
    hText("90.954", 187, 290, BLUE_TXT, 23, "left"),
    hText("91.317", 1021, 290, BLUE_TXT, 23, "right"),
    hText("Air pressure", 1028, 1373, BLUE_TXT, 23, "right"),
    hText("2026\u221204\u221202", 94, 1624, BLACK, 27, "left"),
    hText("Time [h]", 605, 1622, BLACK, 27, "center"),
  ];

  return {
    animation: false,
    backgroundColor: "#ffffff",
    textStyle: { fontFamily: FONT },
    grid, xAxis, yAxis, series, graphic,
  };
}

export default function App() {
  const ref = useRef<HTMLDivElement>(null);
  useEffect(() => {
    if (!ref.current) return;
    const chart = echarts.init(ref.current, undefined, { renderer: "svg" });
    chart.setOption(buildOption() as any);
    return () => chart.dispose();
  }, []);
  return (
    <div
      ref={ref}
      style={{ position: "absolute", left: 0, top: 0, width: 1190, height: 1684, background: "#ffffff" }}
    />
  );
}
